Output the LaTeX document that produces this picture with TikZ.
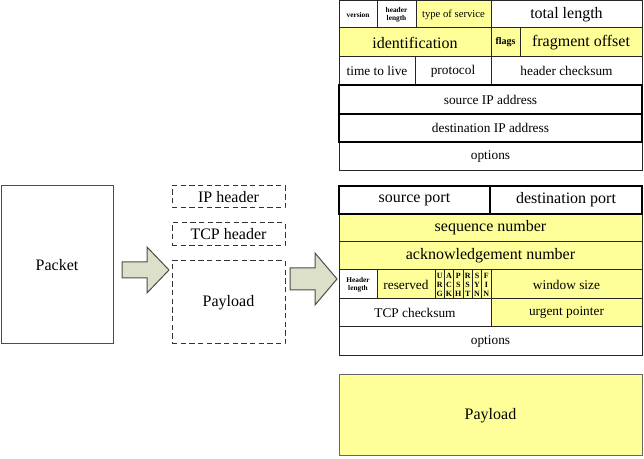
\documentclass[tikz,border=0pt]{standalone}
\usepackage{fontspec}
\setmainfont{Liberation Serif}
\definecolor{yel}{HTML}{FFFF99}
\definecolor{arrowfill}{HTML}{DDE0C8}
\newcommand\cellbox[7]{%
  \pgfmathsetmacro\cw{(#4-#2)*0.75}%
  \pgfmathsetmacro\ch{(#5-#3)*0.75}%
  \node[cellbase,#6,minimum width=\cw pt,minimum height=\ch pt] (#1) at ({(#2+#4)/2},{(#3+#5)/2}) {#7};}
\begin{document}
\begin{tikzpicture}[x=0.75pt,y=-0.75pt,
  cellbase/.style={draw=black!85,line width=0.75pt,inner sep=0pt,outer sep=0pt,align=center,font=\fontsize{10}{11}\selectfont},
  yc/.style={fill=yel},
  wc/.style={fill=white},
  strong/.style={line width=1.8pt,draw=black},
  big/.style={font=\fontsize{12}{13}\selectfont},
  tinybold/.style={font=\bfseries\fontsize{5.5}{6.2}\selectfont},
  flagtxt/.style={font=\bfseries\fontsize{6}{6.8}\selectfont},
  dashbox/.style={draw=black!80,line width=0.75pt,dash pattern=on 4pt off 2.5pt,fill=none},
  blockarrow/.style={fill=arrowfill,draw=black!70,line width=0.75pt,line join=miter}]
\useasboundingbox (0,0) rectangle (644,459);
% IP header
\cellbox{ver}{339}{1}{377}{28}{wc,tinybold}{version}
\cellbox{hlen}{377}{1}{416}{28}{wc,tinybold}{header\\length}
\cellbox{tos}{416}{1}{491}{28}{yc,font=\fontsize{8}{9}\selectfont}{type of service}
\cellbox{tlen}{491}{1}{642}{28}{wc,big}{total length}
\cellbox{ident}{339}{28}{491}{57}{yc,big}{identification}
\cellbox{flg}{491}{28}{520}{57}{yc,font=\bfseries\fontsize{7.5}{8}\selectfont}{flags}
\cellbox{frag}{520}{28}{642}{57}{yc,big}{fragment offset}
\cellbox{ttl}{339}{57}{415}{85}{wc}{time to live}
\cellbox{proto}{415}{57}{491}{85}{wc}{protocol}
\cellbox{hcs}{491}{57}{642}{85}{wc}{header checksum}
\cellbox{ipopt}{339}{142}{642}{171}{wc}{options}
\cellbox{srcip}{339}{85}{642}{114}{wc,strong}{source IP address}
\cellbox{dstip}{339}{114}{642}{142}{wc,strong}{destination IP address}
% TCP header
\cellbox{seq}{339}{214}{642}{242}{yc,big}{sequence number}
\cellbox{ack}{339}{242}{642}{270}{yc,big}{acknowledgement number}
\cellbox{thl}{339}{270}{377}{299}{wc,tinybold}{Header\\length}
\cellbox{res}{377}{270}{435}{299}{yc}{reserved}
\foreach \i/\t in {0/{U\\R\\G},1/{A\\C\\K},2/{P\\S\\H},3/{R\\S\\T},4/{S\\Y\\N},5/{F\\I\\N}}{
  \pgfmathsetmacro\xa{435+\i*56/6}
  \pgfmathsetmacro\xb{435+(\i+1)*56/6}
  \cellbox{flag\i}{\xa}{270}{\xb}{299}{yc,flagtxt}{\t}
}
\cellbox{win}{491}{270}{642}{299}{yc}{window size}
\cellbox{tcs}{339}{299}{491}{327}{wc}{TCP checksum}
\cellbox{urg}{491}{299}{642}{327}{yc}{urgent pointer}
\cellbox{topt}{339}{327}{642}{356}{wc}{options}
\cellbox{sport}{339}{186}{490}{214}{wc,strong,big}{source port}
\cellbox{dport}{490}{186}{642}{214}{wc,strong,big}{destination port}
% Payload
\cellbox{pay}{339}{375}{642}{456}{yc,big,draw=black!60}{Payload}
% Packet
\cellbox{pkt}{1}{186}{113}{344}{wc,big,draw=black!70}{Packet}
% dashed parts
\cellbox{iph}{172}{186}{285}{208}{dashbox,big}{IP header}
\cellbox{tcph}{172}{223}{285}{246}{dashbox,big}{TCP header}
\cellbox{dpay}{172}{261}{285}{344}{dashbox,big}{Payload}
% block arrows
\draw[blockarrow] (122,262) -- (147,262) -- (147,247) -- (169,270) -- (147,293) -- (147,278) -- (122,278) -- cycle;
\draw[blockarrow] (290,268) -- (315,268) -- (315,253) -- (337,279) -- (315,305) -- (315,290) -- (290,290) -- cycle;
\end{tikzpicture}
\end{document}
